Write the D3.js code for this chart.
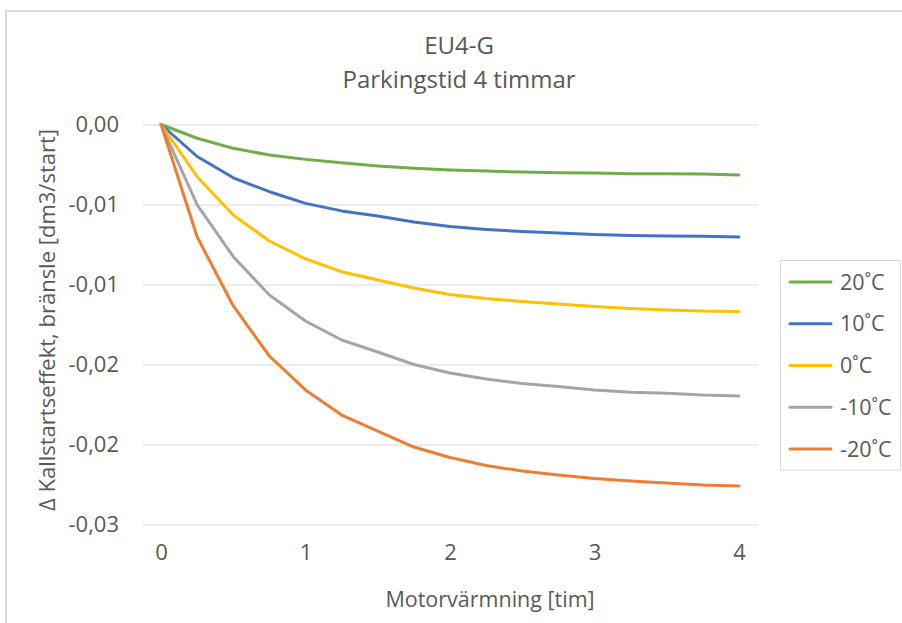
<!DOCTYPE html>
<html>
<head>
<meta charset="utf-8">
<script src="https://cdn.jsdelivr.net/npm/d3@7"></script>
<style>
  html, body { margin: 0; padding: 0; background: #fff; }
  svg { display: block; }
  text { font-family: "Open Sans", "Noto Sans", sans-serif; fill: #595959; }
</style>
</head>
<body>
<svg id="chart" width="902" height="623"></svg>
<script>
// ---- data ----
const hours = [0, 0.25, 0.5, 0.75, 1, 1.25, 1.5, 1.75, 2, 2.25, 2.5, 2.75, 3, 3.25, 3.5, 3.75, 4];
const seriesNames = ["20˚C", "10˚C", "0˚C", "-10˚C", "-20˚C"];
const values20 = [0, -0.00086, -0.00149, -0.0019, -0.00218, -0.00239, -0.00259, -0.00274, -0.00284, -0.00291, -0.00297, -0.00301, -0.00303, -0.00308, -0.00308, -0.00309, -0.00316];
const values10 = [0, -0.002, -0.00333, -0.0042, -0.00493, -0.0054, -0.00572, -0.0061, -0.00638, -0.00656, -0.00669, -0.00678, -0.00688, -0.00693, -0.00697, -0.00699, -0.00703];
const values0 = [0, -0.00326, -0.00566, -0.00728, -0.0084, -0.0092, -0.00972, -0.01022, -0.01063, -0.01088, -0.01106, -0.01122, -0.01138, -0.0115, -0.01159, -0.01166, -0.01168];
const valuesM10 = [0, -0.00503, -0.00826, -0.01066, -0.01228, -0.01347, -0.01422, -0.015, -0.01553, -0.01591, -0.01619, -0.01638, -0.01659, -0.01674, -0.0168, -0.01691, -0.01697];
const valuesM20 = [0, -0.00703, -0.01134, -0.01447, -0.01659, -0.01816, -0.01916, -0.02016, -0.02081, -0.02131, -0.02166, -0.02191, -0.02213, -0.02228, -0.02241, -0.02253, -0.02259];
const colors = ["#70AD47", "#4472C4", "#FFC000", "#A5A5A5", "#ED7D31"];
const yTicks = [0, -0.005, -0.01, -0.015, -0.02, -0.025];
const yTickLabels = ["0,00", "-0,01", "-0,01", "-0,02", "-0,02", "-0,03"];
const xTicks = [0, 1, 2, 3, 4];
const xTickLabels = ["0", "1", "2", "3", "4"];
const titleLines = ["EU4-G", "Parkingstid 4 timmar"];
const xTitle = "Motorvärmning [tim]";
const yTitle = "Δ Kallstartseffekt, bränsle [dm3/start]";

const seriesValues = [values20, values10, values0, valuesM10, valuesM20];

// ---- layout ----
const svg = d3.select("#chart");
const plot = { left: 143, right: 757, top: 124.5, bottom: 524.5 };

// outer chart border
svg.append("rect")
  .attr("x", 6).attr("y", 11)
  .attr("width", 920).attr("height", 640)
  .attr("fill", "none").attr("stroke", "#d9d9d9").attr("stroke-width", 2);

const x = d3.scalePoint().domain(hours).range([plot.left, plot.right]).padding(0.5);
const y = d3.scaleLinear().domain([-0.025, 0]).range([plot.bottom, plot.top]);

// gridlines + y labels via axis
const yAxis = d3.axisLeft(y)
  .tickValues(yTicks)
  .tickSize(-(plot.right - plot.left))
  .tickPadding(24)
  .tickFormat((d, i) => yTickLabels[i]);
const gy = svg.append("g").attr("transform", `translate(${plot.left},0)`).call(yAxis);
gy.select(".domain").remove();
gy.selectAll(".tick line").attr("stroke", "#d9d9d9").attr("stroke-width", 1);
gy.selectAll(".tick text")
  .attr("font-size", 22).attr("fill", "#595959")
  .style("font-family", '"Open Sans", sans-serif');

// x axis labels
const xAxis = d3.axisBottom(x)
  .tickValues(xTicks)
  .tickSize(0)
  .tickPadding(20)
  .tickFormat((d, i) => xTickLabels[i]);
const gx = svg.append("g").attr("transform", `translate(0,${plot.bottom})`).call(xAxis);
gx.select(".domain").remove();
gx.selectAll(".tick text")
  .attr("font-size", 22).attr("fill", "#595959")
  .style("font-family", '"Open Sans", sans-serif');

// lines
const line = d3.line()
  .x((d, i) => x(hours[i]))
  .y(d => y(d));
seriesValues.forEach((vals, k) => {
  svg.append("path")
    .datum(vals)
    .attr("d", line)
    .attr("fill", "none")
    .attr("stroke", colors[k])
    .attr("stroke-width", 3)
    .attr("stroke-linejoin", "round")
    .attr("stroke-linecap", "round");
});

// title
svg.append("text").attr("x", 459).attr("y", 54).attr("text-anchor", "middle")
  .attr("font-size", 24).text(titleLines[0]);
svg.append("text").attr("x", 459).attr("y", 88).attr("text-anchor", "middle")
  .attr("font-size", 24).text(titleLines[1]);

// axis titles
svg.append("text").attr("x", 490).attr("y", 607).attr("text-anchor", "middle")
  .attr("font-size", 21.5).text(xTitle);
svg.append("text")
  .attr("transform", "translate(55,320) rotate(-90)")
  .attr("text-anchor", "middle")
  .attr("font-size", 22).text(yTitle);

// legend
svg.append("rect")
  .attr("x", 780.5).attr("y", 260.5).attr("width", 120).attr("height", 209.5)
  .attr("fill", "#fff").attr("stroke", "#d9d9d9").attr("stroke-width", 1);
const legendY = d3.scalePoint().domain(seriesNames).range([282, 449]);
seriesNames.forEach((name, k) => {
  const ly = legendY(name);
  svg.append("line")
    .attr("x1", 790).attr("x2", 831).attr("y1", ly).attr("y2", ly)
    .attr("stroke", colors[k]).attr("stroke-width", 3).attr("stroke-linecap", "round");
  svg.append("text")
    .attr("x", 840).attr("y", ly).attr("dy", "0.35em")
    .attr("font-size", 21.5).text(name);
});
</script>
</body>
</html>
